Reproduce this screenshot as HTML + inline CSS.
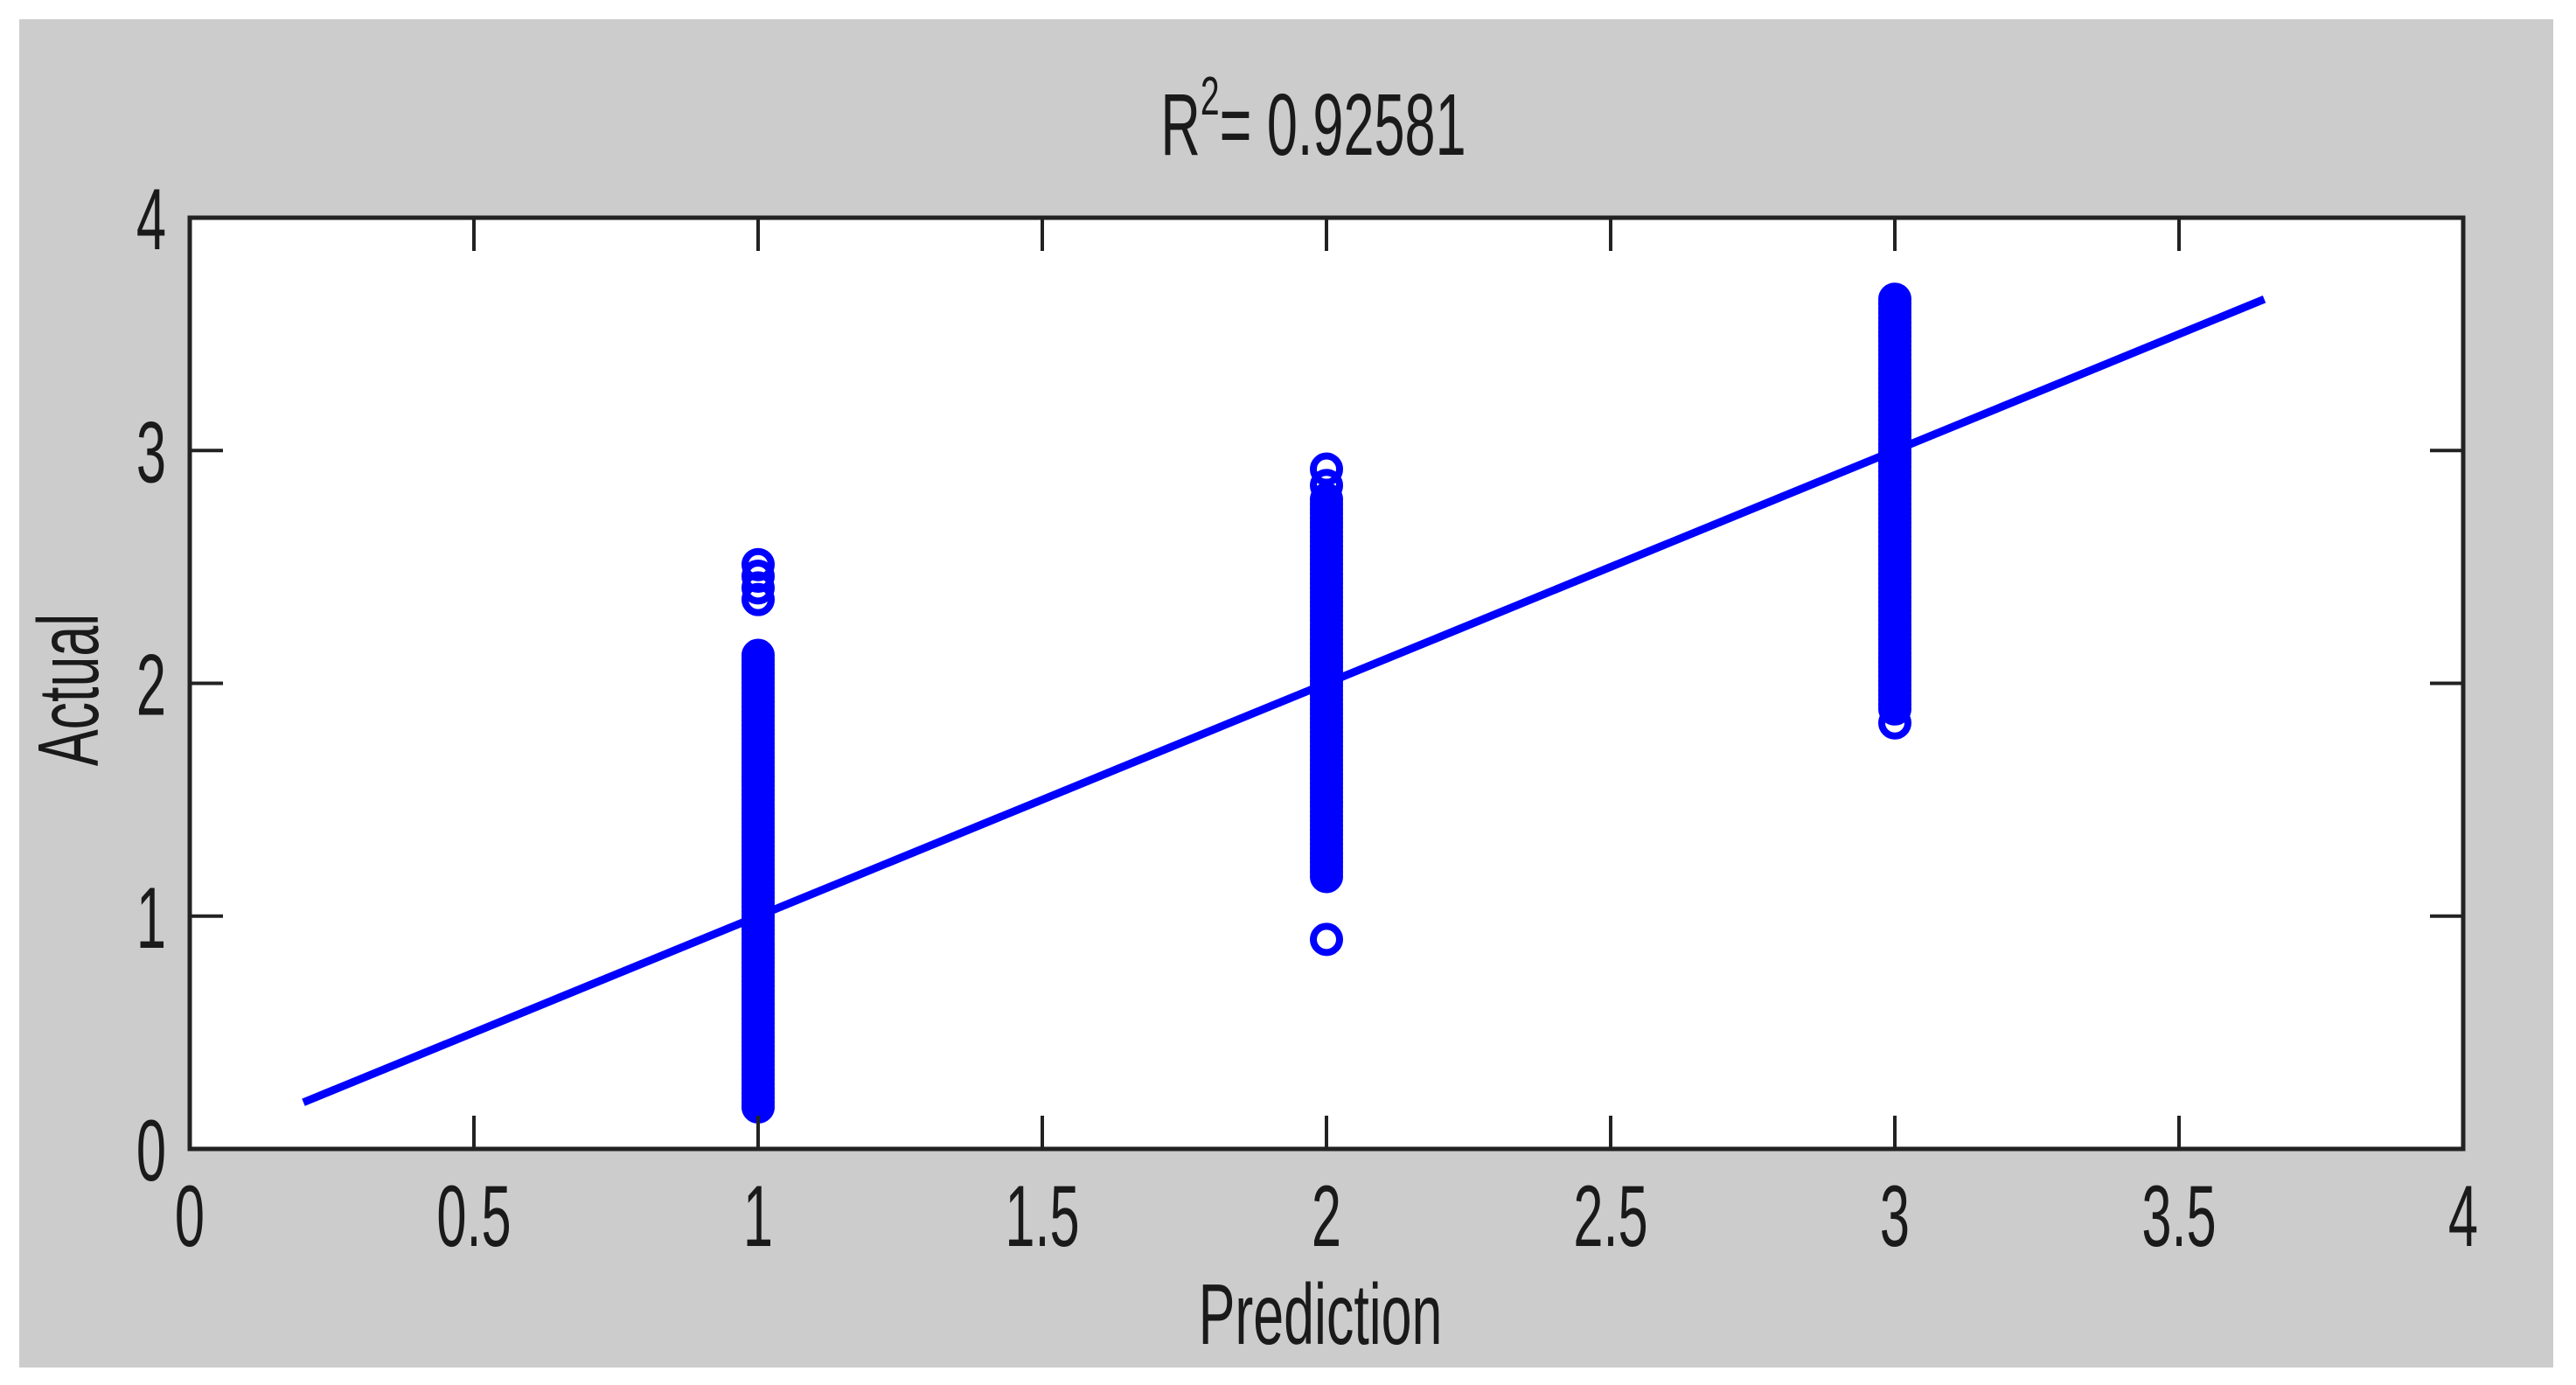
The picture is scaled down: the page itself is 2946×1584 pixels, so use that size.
<!DOCTYPE html>
<html><head><meta charset="utf-8"><style>
html,body{margin:0;padding:0;background:#fff;}
svg{display:block;}
text{font-family:"Liberation Sans",sans-serif;fill:#1a1a1a;}
</style></head><body>
<svg id="chart" width="2946" height="1584" viewBox="0 0 2946 1584" xmlns="http://www.w3.org/2000/svg">
<rect x="22" y="22" width="2898" height="1542" fill="#cccccc"/>
<rect x="217" y="249" width="2600" height="1065" fill="#ffffff"/>
<g id="marks"></g>
<g id="axes"></g>
<text transform="translate(1502,177) scale(0.63,1)" font-size="100" text-anchor="middle">R<tspan font-size="62" dy="-46">2</tspan><tspan dy="46">= 0.92581</tspan></text>
<text transform="translate(1510,1537) scale(0.64,1)" font-size="98" text-anchor="middle">Prediction</text>
<text transform="translate(112,789) rotate(-90) scale(0.64,1)" font-size="98" text-anchor="middle">Actual</text>
</svg>
<script>
const xTicks=[0,0.5,1,1.5,2,2.5,3,3.5,4];
const xTickLabels=["0","0.5","1","1.5","2","2.5","3","3.5","4"];
const yTicks=[0,1,2,3,4];
const yTickLabels=["0","1","2","3","4"];
const predictedClasses=[1,2,3];
const actualAtPred1=[0.18,0.20,0.22,0.24,0.26,0.28,0.30,0.32,0.34,0.36,0.38,0.40,0.42,0.44,0.46,0.48,0.50,0.52,0.54,0.56,0.58,0.60,0.62,0.64,0.66,0.68,0.70,0.72,0.74,0.76,0.78,0.80,0.82,0.84,0.86,0.88,0.90,0.92,0.94,0.96,0.98,1.00,1.02,1.04,1.06,1.08,1.10,1.12,1.14,1.16,1.18,1.20,1.22,1.24,1.26,1.28,1.30,1.32,1.34,1.36,1.38,1.40,1.42,1.44,1.46,1.48,1.50,1.52,1.54,1.56,1.58,1.60,1.62,1.64,1.66,1.68,1.70,1.72,1.74,1.76,1.78,1.80,1.82,1.84,1.86,1.88,1.90,1.92,1.94,1.96,1.98,2.00,2.02,2.04,2.06,2.08,2.10,2.12,2.36,2.41,2.46,2.51];
const actualAtPred2=[0.90,1.17,1.19,1.21,1.23,1.25,1.27,1.29,1.31,1.33,1.35,1.37,1.39,1.41,1.43,1.45,1.47,1.49,1.51,1.53,1.55,1.57,1.59,1.61,1.63,1.65,1.67,1.69,1.71,1.73,1.75,1.77,1.79,1.81,1.83,1.85,1.87,1.89,1.91,1.93,1.95,1.97,1.99,2.01,2.03,2.05,2.07,2.09,2.11,2.13,2.15,2.17,2.19,2.21,2.23,2.25,2.27,2.29,2.31,2.33,2.35,2.37,2.39,2.41,2.43,2.45,2.47,2.49,2.51,2.53,2.55,2.57,2.59,2.61,2.63,2.65,2.67,2.69,2.71,2.73,2.75,2.77,2.79,2.85,2.92];
const actualAtPred3=[1.83,1.89,1.91,1.93,1.95,1.97,1.99,2.01,2.03,2.05,2.07,2.09,2.11,2.13,2.15,2.17,2.19,2.21,2.23,2.25,2.27,2.29,2.31,2.33,2.35,2.37,2.39,2.41,2.43,2.45,2.47,2.49,2.51,2.53,2.55,2.57,2.59,2.61,2.63,2.65,2.67,2.69,2.71,2.73,2.75,2.77,2.79,2.81,2.83,2.85,2.87,2.89,2.91,2.93,2.95,2.97,2.99,3.01,3.03,3.05,3.07,3.09,3.11,3.13,3.15,3.17,3.19,3.21,3.23,3.25,3.27,3.29,3.31,3.33,3.35,3.37,3.39,3.41,3.43,3.45,3.47,3.49,3.51,3.53,3.55,3.57,3.59,3.61,3.63,3.65];
const fitLineX=[0.2,3.65];
const fitLineY=[0.2,3.65];

const NS="http://www.w3.org/2000/svg";
const L=217,R=2817,T=249,B=1314;
const xMin=0,xMax=4,yMin=0,yMax=4;
function sx(v){return L+(v-xMin)/(xMax-xMin)*(R-L);}
function sy(v){return B-(v-yMin)/(yMax-yMin)*(B-T);}
function mk(tag,attrs,parent){const e=document.createElementNS(NS,tag);for(const k in attrs)e.setAttribute(k,attrs[k]);parent.appendChild(e);return e;}

const marks=document.getElementById('marks');
const axes=document.getElementById('axes');
const groups=[actualAtPred1,actualAtPred2,actualAtPred3];
groups.forEach((vals,gi)=>{
  vals.forEach(v=>{
    const c=mk('circle',{cx:sx(predictedClasses[gi]),cy:sy(v),r:15,fill:'none',stroke:'#0000ff','stroke-width':8},marks);
    
    
  });
});
const fl=mk('line',{x1:sx(fitLineX[0]),y1:sy(fitLineY[0]),x2:sx(fitLineX[1]),y2:sy(fitLineY[1]),stroke:'#0000ff','stroke-width':9},marks);



const box=mk('rect',{x:L,y:T,width:R-L,height:B-T,fill:'none',stroke:'#222','stroke-width':5},axes);



xTicks.forEach((v,i)=>{
  const x=sx(v);
  const t1=mk('line',{x1:x,y1:B,x2:x,y2:B-38,stroke:'#222','stroke-width':4},axes);
  
  
  const t2=mk('line',{x1:x,y1:T,x2:x,y2:T+38,stroke:'#222','stroke-width':4},axes);
  
  
  const tx=mk('text',{transform:`translate(${x},1425) scale(0.62,1)`,'font-size':99,'text-anchor':'middle'},axes);
  tx.textContent=xTickLabels[i];
  
  
});
yTicks.forEach((v,i)=>{
  const y=sy(v);
  const t1=mk('line',{x1:L,y1:y,x2:L+38,y2:y,stroke:'#222','stroke-width':4},axes);
  
  
  const t2=mk('line',{x1:R,y1:y,x2:R-38,y2:y,stroke:'#222','stroke-width':4},axes);
  
  
  const tx=mk('text',{transform:`translate(190,${y+36}) scale(0.62,1)`,'font-size':99,'text-anchor':'end'},axes);
  tx.textContent=yTickLabels[i];
  
  
});
</script>
</body></html>
